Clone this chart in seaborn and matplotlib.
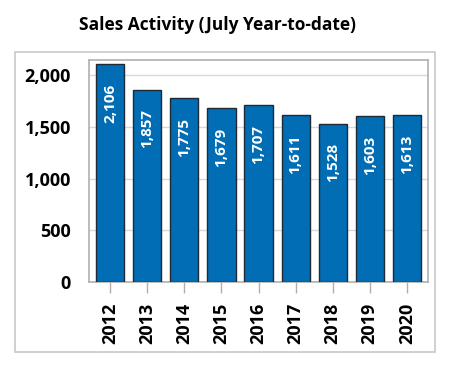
import matplotlib
matplotlib.use("Agg")
import matplotlib.pyplot as plt
import seaborn as sns
import pandas as pd
from matplotlib.patches import Rectangle

years = ["2012", "2013", "2014", "2015", "2016", "2017", "2018", "2019", "2020"]
sales = [2106, 1857, 1775, 1679, 1707, 1611, 1528, 1603, 1613]
yticks = [0, 500, 1000, 1500, 2000]
ytick_labels = ["0", "500", "1,000", "1,500", "2,000"]

df = pd.DataFrame({"year": years, "sales": sales})

sns.set_style("white")
plt.rcParams["font.family"] = ["Open Sans", "DejaVu Sans"]

fig = plt.figure(figsize=(4.5, 3.71), dpi=100)
ax = fig.add_axes([0.198, 0.240, 0.753, 0.598])

# outer frame around the chart
fig.patches.append(Rectangle((0.033, 0.051), 0.934, 0.809, transform=fig.transFigure,
                             fill=False, edgecolor="#c8c8c8", linewidth=1.2, zorder=0))

sns.barplot(data=df, x="year", y="sales", ax=ax, color="#006DB5", saturation=1,
            width=0.76, edgecolor="#1e2a36", linewidth=1.0, zorder=3)

for i, v in enumerate(sales):
    ax.annotate(f"{v:,}", (i, v), xytext=(0, -14), textcoords="offset points",
                rotation=90, ha="center", va="top", color="white",
                fontsize=11, fontweight="bold")

ax.set_xlim(-0.57, 8.57)
ax.set_ylim(0, 2145)
ax.set_yticks(yticks)
ax.set_yticklabels(ytick_labels)
ax.yaxis.grid(True, color="#d8d8d8", linewidth=1.0, zorder=0)
ax.set_axisbelow(True)
ax.set_xlabel("")
ax.set_ylabel("")

for s in ax.spines.values():
    s.set_color("#b0b0b0")
    s.set_linewidth(1.2)

ax.tick_params(axis="y", length=7, width=1, color="#b0b0b0", pad=6, labelsize=13,
               labelcolor="black")
ax.tick_params(axis="x", length=8, width=1, color="#b0b0b0", pad=7, labelsize=13,
               labelrotation=90, bottom=True, labelcolor="black")
for lab in ax.get_xticklabels() + ax.get_yticklabels():
    lab.set_fontweight("bold")

fig.text(0.483, 0.933, "Sales Activity (July Year-to-date)", ha="center", va="center",
         fontsize=12.5, fontweight="bold", color="black")

fig.savefig("out.png", dpi=100)
